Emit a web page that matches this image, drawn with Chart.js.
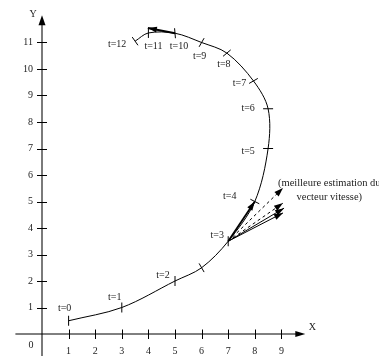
<!DOCTYPE html>
<html><head><meta charset="utf-8">
<script src="https://cdn.jsdelivr.net/npm/chart.js@4"></script>
<style>html,body{margin:0;padding:0;background:#fff;overflow:hidden}</style>
</head><body>
<canvas id="c" width="379" height="356"></canvas>
<script>
// ---- data ----
const curveX = [1, 3, 5, 6, 7, 8, 8.5, 8.5, 7.95, 6.95, 6.0, 5.0, 4.0, 3.5];
const curveY = [0.5, 1.0, 2.0, 2.5, 3.5, 5.0, 7.0, 8.5, 9.55, 10.6, 11.0, 11.35, 11.36, 11.05];
const curveLabels = ["t=0","t=1","t=2","","t=3","t=4","t=5","t=6","t=7","t=8","t=9","t=10","t=11","t=12"];
const xTickValues = [1,2,3,4,5,6,7,8,9];
const yTickValues = [1,2,3,4,5,6,7,8,9,10,11];
const originLabel = "0";
const xAxisTitle = "X";
const yAxisTitle = "Y";
// velocity vectors from t=3
const vecOriginX = 7, vecOriginY = 3.5;
const vecEndX = [8, 9.06, 9.06, 9.1, 9.06];
const vecEndY = [5, 5.51, 4.94, 4.75, 4.57];
const vecDashed = [false, true, true, false, false];
// velocity vector at t=10
const arrow10X = [5, 3.98];
const arrow10Y = [11.35, 11.55];
const noteLines = ["(meilleure estimation du", "vecteur vitesse)"];

// ---- styles (not data) ----
const tickRotation = [90, 90, 90, 60, 90, 27, 0, 0, -30, -40, -60, 85, 90, 55];
const labelOffset = [[-4,-12],[-7,-10],[-12,-6],[0,0],[-11,-6],[-25,-5],[-20,3],[-20,0],[-14,2],[-3,11],[-2,14],[4,13],[5,13],[-18,3]];
const vecWidth = [1.8, 1, 1, 1, 1];
const noteAnchor = {x: 10.8, y: 5.70};
const FONT = '10px "Liberation Serif", "DejaVu Serif", serif';
const NOTE_FONT = '10.5px "Liberation Serif", "DejaVu Serif", serif';

const pts = curveX.map((x, i) => ({x, y: curveY[i]}));
const datasets = [
  {data: pts, showLine: true, borderColor: '#000', borderWidth: 1, tension: 0.33, pointRadius: 0, clip: false},
  {data: pts, showLine: false, pointStyle: 'line', pointRadius: 5, pointBorderWidth: 1,
   pointBorderColor: '#000', pointRotation: tickRotation, clip: false}
];
vecEndX.forEach((ex, i) => {
  datasets.push({data: [{x: vecOriginX, y: vecOriginY}, {x: ex, y: vecEndY[i]}], showLine: true,
    borderColor: '#000', borderWidth: vecWidth[i], borderDash: vecDashed[i] ? [3, 3] : [],
    pointRadius: 0, tension: 0, clip: false, arrow: true});
});
datasets.push({data: arrow10X.map((x, i) => ({x, y: arrow10Y[i]})), showLine: true, borderColor: '#000',
  borderWidth: 2, pointRadius: 0, tension: 0, clip: false, arrow: true});

function arrowHead(ctx, x0, y0, x1, y1, len, half) {
  const a = Math.atan2(y1 - y0, x1 - x0);
  ctx.beginPath();
  ctx.moveTo(x1, y1);
  ctx.lineTo(x1 - len * Math.cos(a) + half * Math.sin(a), y1 - len * Math.sin(a) - half * Math.cos(a));
  ctx.lineTo(x1 - len * Math.cos(a) - half * Math.sin(a), y1 - len * Math.sin(a) + half * Math.cos(a));
  ctx.closePath();
  ctx.fill();
}

const drawPlugin = {
  id: 'figure',
  beforeDatasetsDraw(chart) {
    const ctx = chart.ctx, xs = chart.scales.x, ys = chart.scales.y;
    const ox = xs.getPixelForValue(0), oy = ys.getPixelForValue(0);
    ctx.save();
    // y axis (gray)
    const yTop = ys.getPixelForValue(12.03);
    ctx.strokeStyle = '#7a7a7a'; ctx.lineWidth = 2;
    ctx.beginPath(); ctx.moveTo(ox, chart.height); ctx.lineTo(ox, yTop + 8); ctx.stroke();
    ctx.fillStyle = '#000';
    arrowHead(ctx, ox, yTop + 20, ox, yTop, 10, 3.5);
    // x axis
    const xLeft = xs.getPixelForValue(-1.0), xRight = xs.getPixelForValue(9.9);
    ctx.strokeStyle = '#000'; ctx.lineWidth = 1;
    ctx.beginPath(); ctx.moveTo(xLeft, oy); ctx.lineTo(xRight - 6, oy); ctx.stroke();
    arrowHead(ctx, xRight - 20, oy, xRight, oy, 10, 3);
    // ticks
    ctx.beginPath();
    xTickValues.forEach(v => { const p = Math.round(xs.getPixelForValue(v)) + 0.5; ctx.moveTo(p, oy - 4.5); ctx.lineTo(p, oy + 5); });
    yTickValues.forEach(v => { const p = Math.round(ys.getPixelForValue(v)) + 0.5; ctx.moveTo(ox - 5, p); ctx.lineTo(ox + 5, p); });
    ctx.stroke();
    // labels
    ctx.font = FONT; ctx.fillStyle = '#222';
    ctx.textAlign = 'center'; ctx.textBaseline = 'middle';
    xTickValues.forEach(v => ctx.fillText(String(v), xs.getPixelForValue(v), oy + 17));
    ctx.textAlign = 'right';
    yTickValues.forEach(v => ctx.fillText(String(v), ox - 9, ys.getPixelForValue(v)));
    ctx.textAlign = 'center';
    ctx.fillText(originLabel, ox - 11, oy + 11);
    ctx.fillText(xAxisTitle, xRight + 7, oy - 7);
    ctx.fillText(yAxisTitle, ox - 9, yTop - 1);
    ctx.restore();
  },
  afterDatasetsDraw(chart) {
    const ctx = chart.ctx, xs = chart.scales.x, ys = chart.scales.y;
    ctx.save();
    ctx.fillStyle = '#000';
    chart.data.datasets.forEach((ds, i) => {
      if (!ds.arrow) return;
      const m = chart.getDatasetMeta(i).data;
      const a = m[m.length - 2], b = m[m.length - 1];
      arrowHead(ctx, a.x, a.y, b.x, b.y, 9, 3);
    });
    ctx.font = FONT; ctx.fillStyle = '#222';
    ctx.textAlign = 'center'; ctx.textBaseline = 'middle';
    curveLabels.forEach((t, i) => {
      if (!t) return;
      ctx.fillText(t, xs.getPixelForValue(curveX[i]) + labelOffset[i][0], ys.getPixelForValue(curveY[i]) + labelOffset[i][1]);
    });
    ctx.font = NOTE_FONT;
    const nx = xs.getPixelForValue(noteAnchor.x), ny = ys.getPixelForValue(noteAnchor.y);
    noteLines.forEach((l, i) => ctx.fillText(l, nx, ny + i * 14));
    ctx.restore();
  }
};

new Chart(document.getElementById('c'), {
  type: 'scatter',
  data: {datasets},
  options: {
    responsive: false, animation: false, devicePixelRatio: 1,
    layout: {padding: 0, autoPadding: false},
    plugins: {legend: {display: false}, tooltip: {enabled: false}, title: {display: false}},
    events: [],
    scales: {
      x: {type: 'linear', display: false, min: -42 / 26.6, max: (379 - 42) / 26.6},
      y: {type: 'linear', display: false, min: -22 / 26.5, max: 334 / 26.5}
    }
  },
  plugins: [drawPlugin]
});
</script>
</body></html>
